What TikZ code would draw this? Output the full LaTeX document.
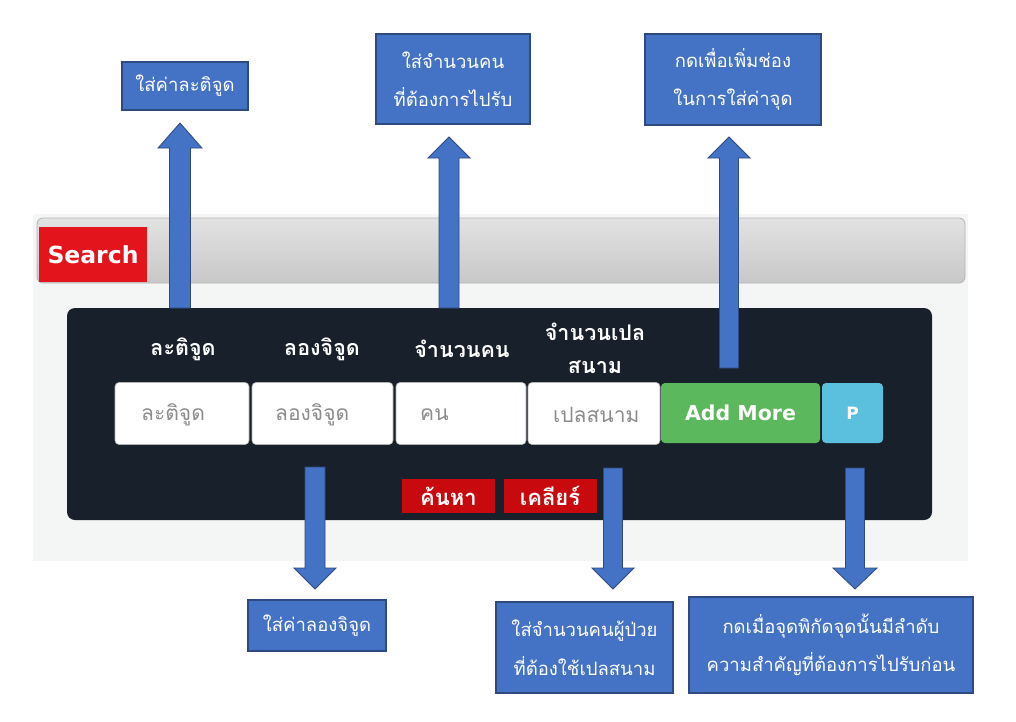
\documentclass[tikz,border=0pt]{standalone}
\usepackage{fontspec}
\newfontfamily\thai[Script=Thai]{Loma}
\newfontfamily\dv{DejaVu Sans}
\definecolor{callfill}{HTML}{4472C4}
\definecolor{callline}{HTML}{2F4A80}
\definecolor{panel}{HTML}{18212B}
\definecolor{btnred}{HTML}{C80A0E}
\definecolor{searchred}{HTML}{E3141B}
\definecolor{addgreen}{HTML}{5CB85C}
\definecolor{pblue}{HTML}{5BC0DE}
\definecolor{screenbg}{HTML}{F4F5F5}
\definecolor{phgray}{HTML}{8C8C8C}
\definecolor{bartop}{HTML}{E2E2E2}
\definecolor{barbot}{HTML}{C8C8C8}
\definecolor{barline}{HTML}{B4B4B4}
\newcommand\blkup[6]{%
  \draw[blockarr] (#1-#2,#6) -- (#1-#2,#5) -- (#1-#3,#5) -- (#1,#4) -- (#1+#3,#5) -- (#1+#2,#5) -- (#1+#2,#6) -- cycle;}
\newcommand\blkdown[6]{%
  \draw[blockarr] (#1-#2,#4) -- (#1-#2,#5) -- (#1-#3,#5) -- (#1,#6) -- (#1+#3,#5) -- (#1+#2,#5) -- (#1+#2,#4) -- cycle;}
\begin{document}
\begin{tikzpicture}[x=1pt,y=-1pt,
  callout/.style={draw=callline, line width=1.3pt, fill=callfill, text=white, align=center, inner sep=0pt,
    font=\thai\fontsize{18.5}{38.5}\selectfont},
  blockarr/.style={draw=callline, line width=0.8pt, fill=callfill},
  inbox/.style={draw=gray!60, line width=0.6pt, fill=white, rounded corners=4pt, inner sep=0pt, minimum height=62pt},
  ph/.style={text=phgray, font=\thai\fontsize{21}{24}\selectfont, anchor=west, inner sep=0pt},
  lbl/.style={text=white, font=\thai\bfseries\fontsize{21.5}{33}\selectfont, align=center, inner sep=0pt},
  redbtn/.style={fill=btnred, text=white, font=\thai\bfseries\fontsize{22}{24}\selectfont, inner sep=0pt,
    minimum width=93pt, minimum height=34pt}
]
\useasboundingbox[fill=white] (0,0) rectangle (1016,721);

% screenshot background
\fill[screenbg] (33,214) rectangle (968,561);
% header bar
\shade[top color=bartop, bottom color=barbot, draw=barline, line width=0.8pt, rounded corners=6pt]
  (37,218) rectangle (965,283);
\node[fill=searchred, text=white, font=\dv\bfseries\fontsize{23.5}{26}\selectfont, inner sep=0pt,
  minimum width=108pt, minimum height=55pt] (search) at (93,254.5) {Search};

% dark panel
\fill[panel, rounded corners=8pt] (67,308) rectangle (932,520);

% labels
\node[lbl] (l1) at (183,349) {ละติจูด};
\node[lbl] (l2) at (322,349) {ลองจิจูด};
\node[lbl] (l3) at (462,349) {จำนวนคน};
\node[lbl] (l4) at (595,348.5) {จำนวนเปล\\สนาม};

% inputs
\node[inbox, minimum width=134pt] (i1) at (182,413.5) {};
\node[inbox, minimum width=141pt] (i2) at (322.5,413.5) {};
\node[inbox, minimum width=130pt] (i3) at (461,413.5) {};
\node[inbox, minimum width=132pt] (i4) at (594,413.5) {};
\node[ph] at (141,415) {ละติจูด};
\node[ph] at (275,415) {ลองจิจูด};
\node[ph] at (420,415) {คน};
\node[ph] at (553,415) {เปลสนาม};

\node[fill=addgreen, rounded corners=4pt, text=white, font=\dv\bfseries\fontsize{20.5}{24}\selectfont,
  minimum width=159pt, minimum height=60pt, inner sep=0pt] (add) at (740.5,413) {Add More};
\node[fill=pblue, rounded corners=4pt, text=white, font=\dv\bfseries\fontsize{17}{20}\selectfont,
  minimum width=61pt, minimum height=60pt, inner sep=0pt] (p) at (852.5,413) {P};

% red buttons
\node[redbtn] (find) at (448.5,496) {ค้นหา};
\node[redbtn] (clear) at (550,496) {เคลียร์};

% callouts
\node[callout, minimum width=126pt, minimum height=48pt] (cA) at (185,86) {ใส่ค่าละติจูด};
\node[callout, minimum width=154pt, minimum height=90pt] (cB) at (453,79) {ใส่จำนวนคน\\ที่ต้องการไปรับ};
\node[callout, minimum width=176pt, minimum height=91pt] (cC) at (733,79.5) {กดเพื่อเพิ่มช่อง\\ในการใส่ค่าจุด};
\node[callout, minimum width=138pt, minimum height=51pt] (cD) at (317,625.5) {ใส่ค่าลองจิจูด};
\node[callout, minimum width=177pt, minimum height=91pt] (cE) at (584.5,647.5) {ใส่จำนวนคนผู้ป่วย\\ที่ต้องใช้เปลสนาม};
\node[callout, minimum width=284pt, minimum height=96pt] (cF) at (831,645) {กดเมื่อจุดพิกัดจุดนั้นมีลำดับ\\ความสำคัญที่ต้องการไปรับก่อน};

% block arrows
\blkup{180}{10.5}{22}{123}{148}{308}
\blkup{449}{10}{21}{137}{158}{308}
\blkup{729}{9.5}{21}{137}{158}{368}
\blkdown{315}{10}{21}{467}{568}{589}
\blkdown{613}{9.5}{21}{468}{568}{589}
\blkdown{855}{9.5}{22}{468}{568}{589}
\end{tikzpicture}
\end{document}
